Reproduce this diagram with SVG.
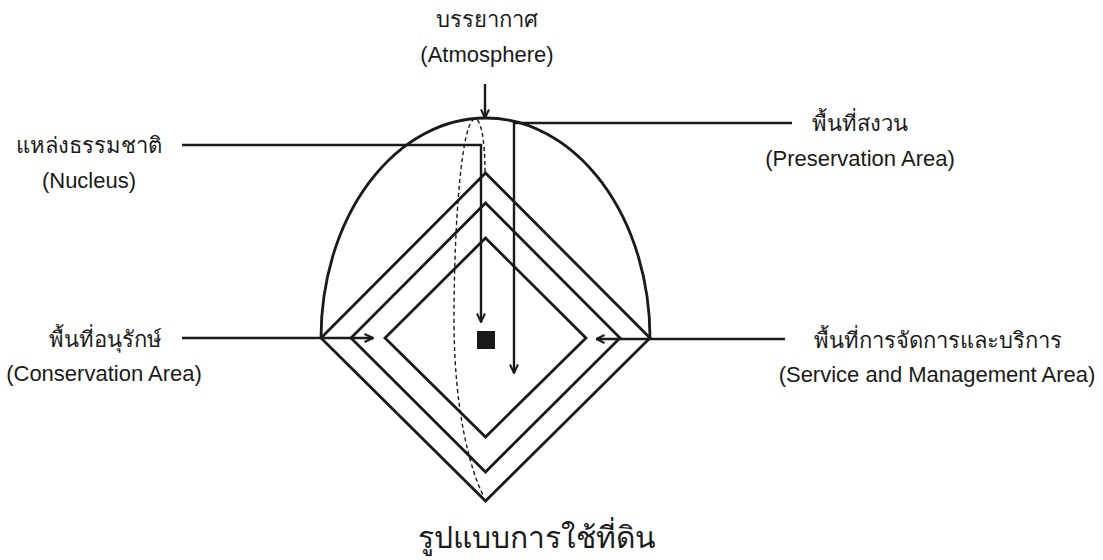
<svg xmlns="http://www.w3.org/2000/svg" width="1103" height="560" viewBox="0 0 1103 560">
  <style>
    .shape { fill: none; stroke: #1a1a1a; stroke-width: 2.8; stroke-linejoin: miter; }
    .conn { fill: none; stroke: #1a1a1a; stroke-width: 2.4; }
    .dash { fill: none; stroke: #1a1a1a; stroke-width: 1.4; stroke-dasharray: 4 3; }
    .th { font-family: "Noto Sans", "Liberation Sans", "DejaVu Sans", sans-serif; font-size: 22px; fill: #1a1a1a; text-anchor: middle; }
    .en { font-family: "Liberation Sans", Arial, sans-serif; font-size: 22px; fill: #1a1a1a; text-anchor: middle; }
    .title { font-family: "Noto Sans", "Liberation Sans", "DejaVu Sans", sans-serif; font-size: 30px; fill: #1a1a1a; text-anchor: middle; }
  </style>
  <defs>
    <marker id="arr" viewBox="0 0 10 10" refX="9.5" refY="5" markerWidth="10" markerHeight="10" markerUnits="userSpaceOnUse" orient="auto">
      <path d="M1,1 L9.5,5 L1,9" fill="none" stroke="#1a1a1a" stroke-width="2"/>
    </marker>
  </defs>
  <rect width="1103" height="560" fill="#ffffff"/>

  <g id="land-use-model">
    <path class="shape" d="M 321 338 A 164.5 220 0 0 1 650 338"/>
    <polygon class="shape" points="485.5,173 650,338 485.5,501 321,338"/>
    <polygon class="shape" points="485.5,203 620,338 485.5,472 351,338"/>
    <polygon class="shape" points="485.5,238 586,338 485.5,437 385,338"/>
    <rect x="477" y="331" width="18" height="18" fill="#1a1a1a"/>
    <path class="dash" d="M 485 172 C 485 140, 481 119, 475 119 C 462 119, 454 220, 454 320 C 454 410, 470 470, 484 497"/>
  </g>

  <g id="connectors">
    <line class="conn" x1="485" y1="84" x2="485" y2="118" marker-end="url(#arr)"/>
    <polyline class="conn" points="182,145 481,145 481,322" marker-end="url(#arr)"/>
    <polyline class="conn" points="792,123 514,123 514,373" marker-end="url(#arr)"/>
    <line class="conn" x1="182" y1="338" x2="373" y2="338" marker-end="url(#arr)"/>
    <line class="conn" x1="785" y1="339" x2="596" y2="339" marker-end="url(#arr)"/>
  </g>

  <g id="atmosphere">
    <text class="th" x="487" y="27">บรรยากาศ</text>
    <text class="en" x="487" y="62">(Atmosphere)</text>
  </g>
  <g id="nucleus">
    <text class="th" x="89" y="153">แหล่งธรรมชาติ</text>
    <text class="en" x="89" y="188">(Nucleus)</text>
  </g>
  <g id="preservation">
    <text class="th" x="860" y="131">พื้นที่สงวน</text>
    <text class="en" x="860" y="166">(Preservation Area)</text>
  </g>
  <g id="conservation">
    <text class="th" x="105" y="347">พื้นที่อนุรักษ์</text>
    <text class="en" x="104" y="381">(Conservation Area)</text>
  </g>
  <g id="service">
    <text class="th" x="938" y="348">พื้นที่การจัดการและบริการ</text>
    <text class="en" x="937" y="382">(Service and Management Area)</text>
  </g>
  <g id="title">
    <text class="title" x="537" y="548">รูปแบบการใช้ที่ดิน</text>
  </g>
</svg>
